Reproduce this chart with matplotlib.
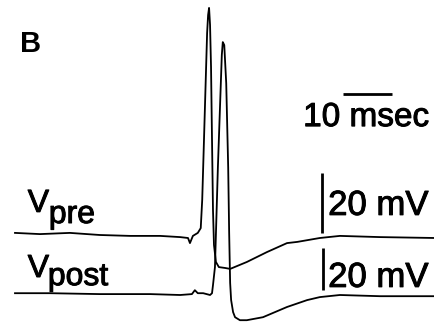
import matplotlib
matplotlib.use("Agg")
import matplotlib.pyplot as plt
import matplotlib.patheffects as pe

# presynaptic trace, time in ms and voltage in mV relative to rest
pre_t = [0.0, 5.1, 11.2, 17.3, 23.5, 29.6, 33.7, 35.3, 35.7, 36.3, 37.3, 37.9,
         38.2, 38.4, 38.8, 39.2, 39.4, 39.6, 39.8, 40.0, 40.2, 40.4, 40.6, 41.0,
         41.6, 42.9, 43.9, 47.3, 51.4, 55.5, 57.6, 62.2, 66.3, 74.5, 85.7]
pre_v = [0.7, 0.3, 0.7, 0.0, -0.3, -0.3, -0.7, -1.0, -2.7, -0.3, 0.7, 2.3,
         11.7, 22.7, 45.0, 67.3, 73.3, 75.7, 70.0, 56.0, 31.7, 8.3, -3.3, -9.0,
         -10.7, -11.0, -11.3, -9.0, -5.7, -2.7, -2.3, -1.0, -0.3, -0.7, -1.0]

# postsynaptic trace
post_t = [0.0, 7.1, 17.3, 27.6, 33.7, 36.1, 36.7, 37.3, 38.4, 39.8, 40.2, 40.4,
          40.8, 41.4, 42.0, 42.2, 42.4, 42.7, 43.1, 43.5, 43.7, 43.9, 44.1, 44.5,
          44.9, 45.9, 47.3, 50.6, 55.5, 59.6, 62.2, 66.3, 74.5, 85.7]
post_v = [0.3, 0.3, 0.0, 0.0, -0.3, 0.0, 1.3, 0.3, 0.3, -0.3, 0.3, 3.0,
          9.0, 42.3, 70.3, 79.7, 84.0, 83.0, 70.3, 42.3, 20.3, 3.7, -2.0, -6.0,
          -7.7, -8.7, -8.7, -7.7, -4.3, -2.0, -1.0, -0.3, -0.7, -0.7]

panel_label = "B"
time_bar_label = "10 msec"
volt_bar_label = "20 mV"
trace_names = ["pre", "post"]

POST_OFFSET = -19.7  # vertical shift of the post trace below the pre trace

plt.rcParams["font.family"] = ["Liberation Sans", "DejaVu Sans"]

fig = plt.figure(figsize=(4.35, 3.22), dpi=100)
ax = fig.add_axes([0, 0, 1, 1])
ax.set_xlim(-3.06, 85.7)
ax.set_ylim(-29.0, 78.33)
ax.axis("off")

ax.plot(pre_t, pre_v, color="black", lw=1.3, solid_joinstyle="round")
ax.plot(post_t, [v + POST_OFFSET for v in post_v], color="black", lw=1.3,
        solid_joinstyle="round")

# scale bars
ax.plot([66.9, 76.9], [47.0, 47.0], color="black", lw=2.0, solid_capstyle="butt")
ax.plot([62.65, 62.65], [0.67, 20.67], color="black", lw=2.0, solid_capstyle="butt")
ax.plot([62.9, 62.9], [-18.3, -4.3], color="black", lw=2.0, solid_capstyle="butt")

# scanned lettering is a little heavier than plain regular weight
heavy = [pe.withStroke(linewidth=0.7, foreground="black")]

ax.text(1.0, 61.0, panel_label, fontsize=21, fontweight="bold", va="baseline")
ax.text(58.8, 36.3, time_bar_label, fontsize=24, va="baseline", path_effects=heavy)
ax.text(63.9, 6.7, volt_bar_label, fontsize=25, va="baseline", path_effects=heavy)
ax.text(63.9, -17.3, volt_bar_label, fontsize=25, va="baseline", path_effects=heavy)

# trace labels, V with a lowered subscript
ax.text(2.6, 7.7, "V", fontsize=23, va="baseline", path_effects=heavy)
ax.text(6.9, 4.0, trace_names[0], fontsize=23, va="baseline", path_effects=heavy)
ax.text(2.6, -14.0, "V", fontsize=23, va="baseline", path_effects=heavy)
ax.text(6.7, -16.7, trace_names[1], fontsize=23, va="baseline", path_effects=heavy)

fig.savefig("out.png", dpi=100)
plt.close(fig)
